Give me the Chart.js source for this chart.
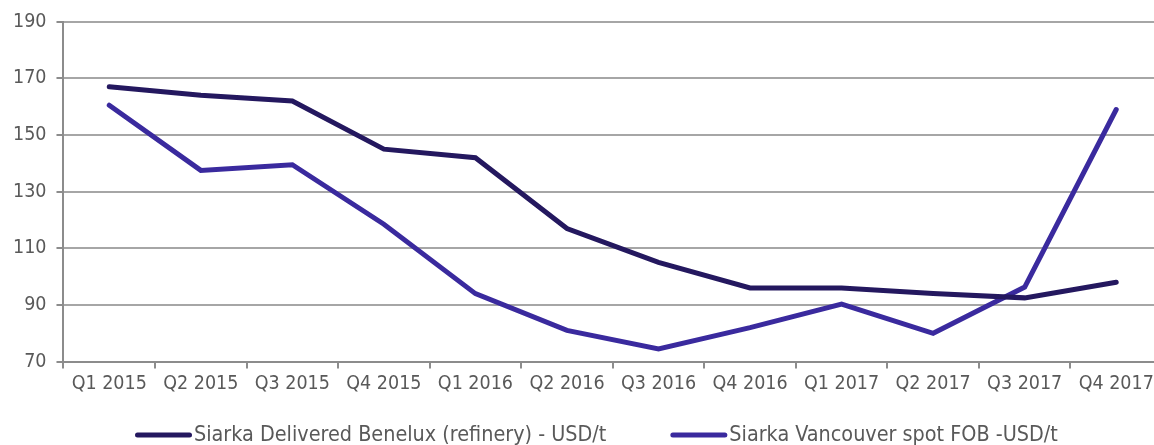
<!DOCTYPE html>
<html>
<head>
<meta charset="utf-8">
<script src="https://cdn.jsdelivr.net/npm/chart.js@4"></script>
<style>
  html, body { margin: 0; padding: 0; background: #fff; overflow: hidden; }
  #wrap { width: 1162px; height: 445px; }
</style>
</head>
<body>
<div id="wrap"><canvas id="sulphurChart"></canvas></div>
<script>
const quarters = ['Q1 2015', 'Q2 2015', 'Q3 2015', 'Q4 2015', 'Q1 2016', 'Q2 2016',
    'Q3 2016', 'Q4 2016', 'Q1 2017', 'Q2 2017', 'Q3 2017', 'Q4 2017'];
const beneluxValues = [167, 164, 162, 145, 142, 117, 105, 96, 96, 94, 92.5, 98];
const vancouverValues = [160.5, 137.5, 139.5, 118.5, 94, 81, 74.5, 82, 90.3, 80, 96.3, 159];
const yMin = 70;
const yMax = 190;
const yStep = 20;

const fontFamily = '"DejaVu Sans Condensed", "DejaVu Sans", sans-serif';
Chart.defaults.font.family = fontFamily;
Chart.defaults.font.size = 19.5;
Chart.defaults.color = '#595959';

// legend drawn by hand: line swatch sits right against the text
const bottomLegend = {
    id: 'bottomLegend',
    afterDraw(chart) {
        const ctx = chart.ctx;
        const y = 435;
        let x = 135;
        ctx.save();
        ctx.font = '21.4px ' + fontFamily;
        ctx.textBaseline = 'middle';
        ctx.textAlign = 'left';
        chart.data.datasets.forEach((ds, i) => {
            if (i > 0) x += 64;
            ctx.strokeStyle = ds.borderColor;
            ctx.lineWidth = 5;
            ctx.lineCap = 'round';
            ctx.beginPath();
            ctx.moveTo(x + 2.5, y);
            ctx.lineTo(x + 54.5, y);
            ctx.stroke();
            x += 59;
            ctx.fillStyle = '#595959';
            ctx.fillText(ds.label, x, y);
            x += ctx.measureText(ds.label).width;
        });
        ctx.restore();
    },
};

const chartElem = document.getElementById('sulphurChart').getContext('2d');

const chartData = {
    labels: quarters,
    datasets: [{
        label: 'Siarka Delivered Benelux (refinery) - USD/t',
        data: beneluxValues,
        borderColor: '#24185F',
        backgroundColor: '#24185F',
        borderWidth: 5,
        borderCapStyle: 'round',
        tension: 0,
        pointRadius: 0,
    }, {
        label: 'Siarka Vancouver spot FOB -USD/t',
        data: vancouverValues,
        borderColor: '#3A2A9E',
        backgroundColor: '#3A2A9E',
        borderWidth: 5,
        borderCapStyle: 'round',
        tension: 0,
        pointRadius: 0,
    }],
};

const chartConfig = {
    type: 'line',
    data: chartData,
    options: {
        responsive: true,
        maintainAspectRatio: false,
        animation: false,
        layout: {
            padding: { left: 3, right: 0, top: 19, bottom: 45 },
        },
        scales: {
            y: {
                min: yMin,
                max: yMax,
                ticks: { stepSize: yStep, padding: 10 },
                border: { color: '#8C8C8C', width: 2 },
                grid: { color: '#A6A6A6', lineWidth: 2, tickLength: 7, tickColor: '#8C8C8C' },
            },
            x: {
                offset: true,
                ticks: { padding: 4, maxRotation: 0, autoSkip: false },
                border: { color: '#8C8C8C', width: 2 },
                grid: { offset: true, drawOnChartArea: false, tickLength: 7, tickColor: '#8C8C8C', lineWidth: 2 },
            },
        },
        plugins: {
            legend: { display: false },
            tooltip: { enabled: false },
        },
    },
    plugins: [bottomLegend],
};

const sulphurChart = new Chart(chartElem, chartConfig);
</script>
</body>
</html>
